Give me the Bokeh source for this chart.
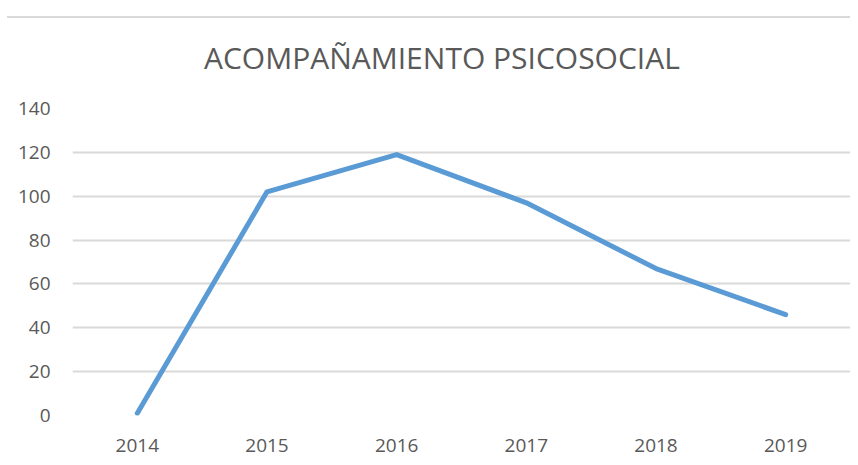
from bokeh.plotting import figure
from bokeh.models import Range1d, FactorRange, Div
from bokeh.layouts import column
from bokeh.embed import file_html
from bokeh.resources import INLINE

title_text = "ACOMPAÑAMIENTO PSICOSOCIAL"
years = ["2014", "2015", "2016", "2017", "2018", "2019"]
values = [1, 102, 119, 97, 67, 46]
y_ticks = [0, 20, 40, 60, 80, 100, 120, 140]

p = figure(width=850, height=368, x_range=FactorRange(*years), y_range=Range1d(0, 140),
           output_backend="svg", toolbar_location=None)
p.min_border_left = 72
p.min_border_right = 0
p.min_border_bottom = 43
p.min_border_top = 18

p.outline_line_color = None
p.background_fill_color = "white"
p.border_fill_color = "white"

p.xgrid.grid_line_color = None
p.ygrid.grid_line_color = "#d9d9d9"
p.ygrid.grid_line_width = 2
p.yaxis.ticker = y_ticks

for ax in (p.xaxis, p.yaxis):
    ax.axis_line_color = None
    ax.major_tick_line_color = None
    ax.minor_tick_line_color = None
    ax.major_label_text_font = "Open Sans"
    ax.major_label_text_font_size = "19px"
    ax.major_label_text_color = "#595959"

p.yaxis.major_label_standoff = 16
p.xaxis.major_label_standoff = 17

p.line(years, values, line_color="#5b9bd5", line_width=5, line_cap="round", line_join="round")

# thin chart-border line across the top of the picture
top_line = Div(width=843, height=2, styles={"background-color": "#d9d9d9"}, margin=(16, 0, 0, 7))

# chart title
title_div = Div(
    text=('<div style="font-family: \'Open Sans\'; font-size: 30px; line-height: 36px; '
          'color: #595959; text-align: left; padding-top: 22px; padding-left: 204px; '
          'white-space: nowrap;">' + title_text + '</div>'),
    width=850, height=72, margin=(0, 0, 0, 0))

layout = column(top_line, title_div, p, spacing=0)

open("out.html", "w").write(file_html(layout, INLINE))
